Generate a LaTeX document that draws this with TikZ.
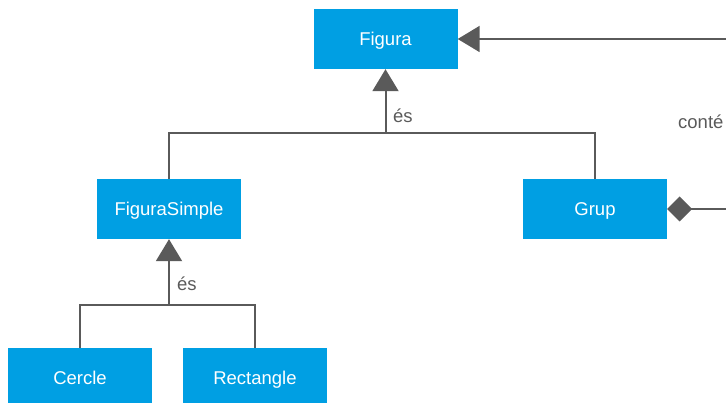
\documentclass[tikz,border=0pt]{standalone}
\usepackage{fontspec}
\setmainfont{Liberation Sans}
\usetikzlibrary{arrows.meta}
\begin{document}
\begin{tikzpicture}[x=1pt,y=-1pt,
  cls/.style={fill=boxblue, minimum width=144pt, minimum height=60pt, inner sep=0pt,
    text height=13pt, text depth=0pt,
    text=white, font=\fontsize{18.5}{21}\selectfont},
  conn/.style={draw=linegray, line width=2pt},
  inherit/.style={conn, -{Triangle[width=26pt,length=22pt,fill=linegray]}},
  lbl/.style={text=linegray, font=\fontsize{18.5}{21}\selectfont, inner sep=0pt}]
\definecolor{boxblue}{HTML}{009FE3}
\definecolor{linegray}{HTML}{5A5A5A}
\useasboundingbox (0,0) rectangle (726,403);
\clip (0,0) rectangle (726,403);

% class boxes
\node[cls] (figura) at (385.5,39) {Figura};
\node[cls] (simple) at (169,209) {FiguraSimple};
\node[cls] (grup) at (595,209) {Grup};
\node[cls] (cercle) at (80,378) {Cercle};
\node[cls] (rect) at (255,378) {Rectangle};

% junction points of the inheritance trees
\coordinate (j1) at (385.5,133);
\coordinate (j2) at (169,305);
\coordinate (rightA) at (740,39);
\coordinate (rightB) at (740,209);

% Figura <- FiguraSimple, Grup
\draw[inherit] (j1) -- (figura.south);
\draw[conn] (simple.north) |- (j1) -| (grup.north);
\node[lbl, anchor=west] (es1) at (393,116) {és};

% FiguraSimple <- Cercle, Rectangle
\draw[inherit] (j2) -- (simple.south);
\draw[conn] (cercle.north) |- (j2) -| (rect.north);
\node[lbl, anchor=west] (es2) at (177,284) {és};

% composition: Grup contains Figura
\draw[conn, {Diamond[width=25pt,length=25pt,fill=linegray]}-] (grup.east) -- (rightB);
\draw[inherit] (rightA) -- (figura.east);
\node[lbl, anchor=west] (conte) at (678,122) {conté};
\end{tikzpicture}
\end{document}
